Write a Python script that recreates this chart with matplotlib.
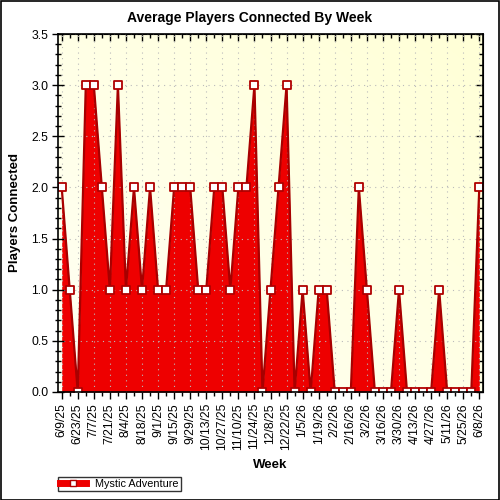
import matplotlib
matplotlib.use("Agg")
import matplotlib.pyplot as plt
import numpy as np
import pandas as pd
from matplotlib.patches import Rectangle
from matplotlib.ticker import MultipleLocator, FixedLocator, NullFormatter
from matplotlib.markers import MarkerStyle
from matplotlib.lines import Line2D

plt.rcParams['font.family'] = ['Liberation Sans', 'DejaVu Sans']

weeks = pd.date_range('2025-06-09', periods=53, freq='7D')
week_labels = [f"{d.month}/{d.day}/{d.year % 100}" for d in weeks]
players = [2, 1, 0, 3, 3, 2, 1, 3, 1, 2, 1, 2, 1, 1, 2, 2, 2, 1, 1, 2,
           2, 1, 2, 2, 3, 0, 1, 2, 3, 0, 1, 0, 1, 1, 0, 0, 0, 2, 1, 0,
           0, 0, 1, 0, 0, 0, 0, 1, 0, 0, 0, 0, 2]
series_name = "Mystic Adventure"

fig = plt.figure(figsize=(5, 5), dpi=100)
ax = fig.add_axes([0.116, 0.216, 0.850, 0.716])

x = np.arange(len(players))
y = np.array(players, dtype=float)

# background gradient
grad = np.linspace(0, 1, 256)
gx, gy = np.meshgrid(grad, grad)
g = (gx + gy) / 2
c0 = np.array([1.0, 1.0, 0.96])
c1 = np.array([1.0, 1.0, 0.84])
img = c0[None, None, :] * (1 - g[..., None]) + c1[None, None, :] * g[..., None]
ax.imshow(img, extent=[0, 1, 0, 1], transform=ax.transAxes, origin='lower',
          aspect='auto', zorder=0)

mk = MarkerStyle('s', joinstyle='round')
ax.fill_between(x, 0, y, color='#EE0000', zorder=2, linewidth=0)
ax.plot(x, y, color='#A80000', lw=1.6, zorder=3)
ax.plot(x, y, linestyle='none', marker=mk, ms=6, mfc='white', mec='#B00000',
        mew=1.3, zorder=4)

ax.set_xlim(-0.46, len(players) - 1 + 0.46)
ax.set_ylim(0, 3.5)

ax.set_xticks(x[::2])
ax.set_xticklabels(week_labels[::2], rotation=90, fontsize=8.8)
ax.xaxis.set_minor_locator(FixedLocator(x[1::2]))
ax.yaxis.set_major_locator(MultipleLocator(0.5))
ax.yaxis.set_minor_locator(MultipleLocator(0.1))
ax.set_yticklabels([f"{v:.1f}" for v in ax.get_yticks()], fontsize=8.8)

ax.tick_params(axis='x', which='major', direction='out', length=5, width=1, pad=3)
ax.tick_params(axis='x', which='minor', direction='out', length=3, width=1)
ax.tick_params(axis='y', which='major', direction='inout', length=8, width=1, pad=3)
ax.tick_params(axis='y', which='minor', direction='inout', length=4, width=1)

# top and right ticks pointing inwards
top = ax.secondary_xaxis('top')
top.set_xticks(x[::2])
top.xaxis.set_minor_locator(FixedLocator(x[1::2]))
top.xaxis.set_major_formatter(NullFormatter())
top.tick_params(which='major', direction='in', length=5, width=1)
top.tick_params(which='minor', direction='in', length=3, width=1)
right = ax.secondary_yaxis('right')
right.yaxis.set_major_locator(MultipleLocator(0.5))
right.yaxis.set_minor_locator(MultipleLocator(0.1))
right.yaxis.set_major_formatter(NullFormatter())
right.tick_params(which='major', direction='in', length=5, width=1)
right.tick_params(which='minor', direction='in', length=3, width=1)

for s in ax.spines.values():
    s.set_linewidth(1.2)
    s.set_zorder(6)

ax.grid(True, which='major', color='#BBBBBB', linestyle=(0, (1, 4)), lw=0.8, zorder=1)
ax.set_axisbelow(False)
for gl in ax.get_xgridlines() + ax.get_ygridlines():
    gl.set_zorder(1)

fig.text(0.5, 0.964, "Average Players Connected By Week", fontsize=10,
         fontweight='bold', ha='center', va='center')
ax.set_xlabel("Week", fontsize=9.5, fontweight='bold', labelpad=6)
ax.set_ylabel("Players Connected", fontsize=9.5, fontweight='bold', labelpad=7)

# legend
h = Line2D([0], [0], color='#EE0000', lw=5, marker=mk, ms=5, mfc='white', mec='#B00000')
leg = fig.legend([h], [series_name], loc='lower left', bbox_to_anchor=(0.116, 0.018),
                 fontsize=7.8, frameon=True, fancybox=False, borderpad=0.2,
                 handlelength=2.4, handletextpad=0.8, borderaxespad=0)
leg.get_frame().set_edgecolor('black')
leg.get_frame().set_linewidth(1)

fig.patches.append(Rectangle((0.001, 0.001), 0.997, 0.997, transform=fig.transFigure,
                             fill=False, edgecolor='black', lw=1.2))

fig.savefig("out.png", dpi=100)
